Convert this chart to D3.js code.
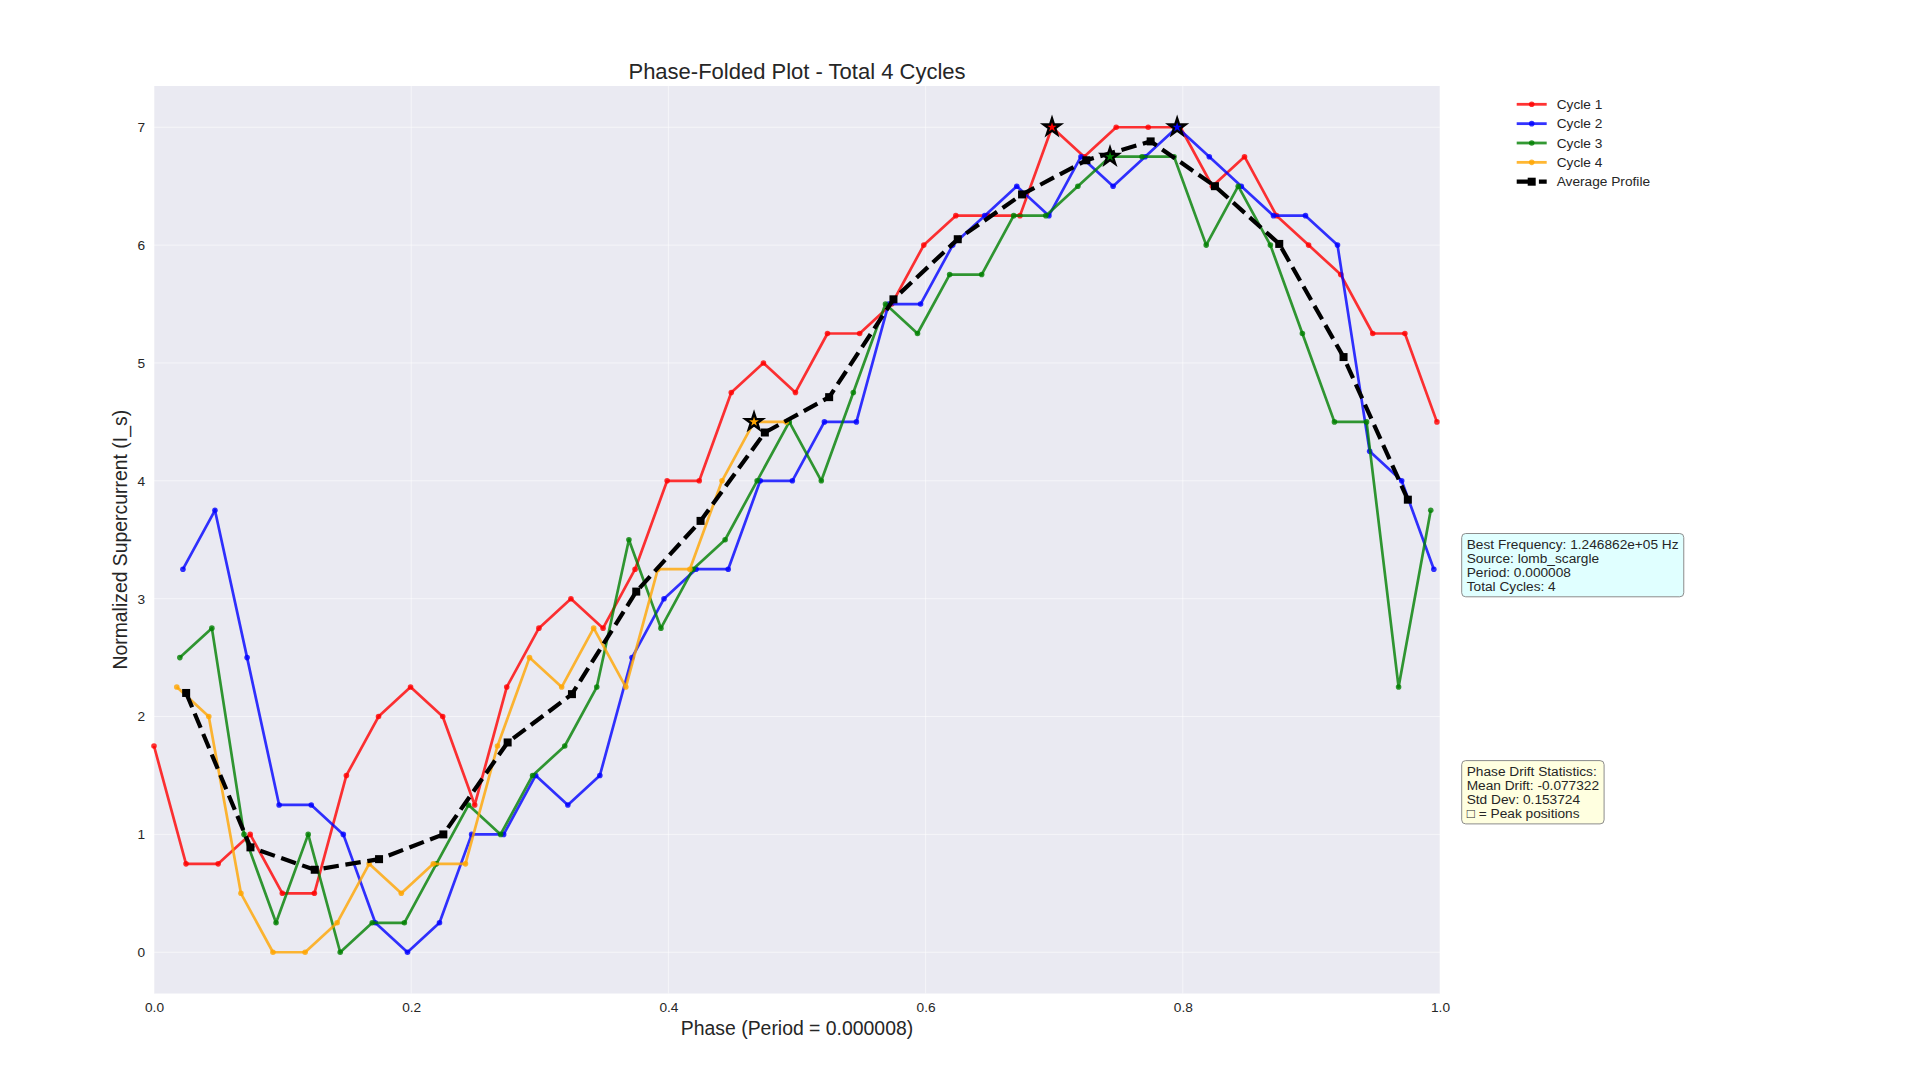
<!DOCTYPE html>
<html>
<head>
<meta charset="utf-8">
<script src="https://cdn.jsdelivr.net/npm/d3@7"></script>
<style>
  body { margin: 0; background: #ffffff; }
  text { font-family: "Liberation Sans", Arial, sans-serif; fill: #262626; }
</style>
</head>
<body>
<div id="div_chart"></div>
<script>

// series names / colours
var cycleNames = ["Cycle 1", "Cycle 2", "Cycle 3", "Cycle 4"];
var cycleColors = ["red", "blue", "green", "orange"];

// phase of every sample and normalized supercurrent
var cycle1Phase = [0.0000, 0.0249, 0.0499, 0.0748, 0.0998, 0.1247, 0.1496, 0.1746, 0.1995, 0.2245,
                   0.2494, 0.2743, 0.2993, 0.3242, 0.3492, 0.3741, 0.3990, 0.4240, 0.4489, 0.4739,
                   0.4988, 0.5237, 0.5487, 0.5736, 0.5986, 0.6235, 0.6484, 0.6734, 0.6983, 0.7233,
                   0.7482, 0.7731, 0.7981, 0.8230, 0.8480, 0.8729, 0.8978, 0.9228, 0.9477, 0.9727,
                   0.9976];
var cycle1Value = [1.75, 0.75, 0.75, 1.0, 0.5, 0.5, 1.5, 2.0, 2.25, 2.0,
                   1.25, 2.25, 2.75, 3.0, 2.75, 3.25, 4.0, 4.0, 4.75, 5.0,
                   4.75, 5.25, 5.25, 5.5, 6.0, 6.25, 6.25, 6.25, 7.0, 6.75,
                   7.0, 7.0, 7.0, 6.5, 6.75, 6.25, 6.0, 5.75, 5.25, 5.25,
                   4.5];

var cycle2Phase = [0.0225, 0.0474, 0.0724, 0.0973, 0.1223, 0.1472, 0.1721, 0.1971, 0.2220, 0.2470,
                   0.2719, 0.2968, 0.3218, 0.3467, 0.3717, 0.3966, 0.4215, 0.4465, 0.4714, 0.4964,
                   0.5213, 0.5462, 0.5712, 0.5961, 0.6211, 0.6460, 0.6709, 0.6959, 0.7208, 0.7458,
                   0.7707, 0.7956, 0.8206, 0.8455, 0.8705, 0.8954, 0.9203, 0.9453, 0.9702, 0.9952];
var cycle2Value = [3.25, 3.75, 2.5, 1.25, 1.25, 1.0, 0.25, 0.0, 0.25, 1.0,
                   1.0, 1.5, 1.25, 1.5, 2.5, 3.0, 3.25, 3.25, 4.0, 4.0,
                   4.5, 4.5, 5.5, 5.5, 6.0, 6.25, 6.5, 6.25, 6.75, 6.5,
                   6.75, 7.0, 6.75, 6.5, 6.25, 6.25, 6.0, 4.25, 4.0, 3.25];

var cycle3Phase = [0.0201, 0.0450, 0.0700, 0.0949, 0.1199, 0.1448, 0.1697, 0.1947, 0.2196, 0.2446,
                   0.2695, 0.2944, 0.3194, 0.3443, 0.3693, 0.3942, 0.4191, 0.4441, 0.4690, 0.4940,
                   0.5189, 0.5438, 0.5688, 0.5937, 0.6187, 0.6436, 0.6685, 0.6935, 0.7184, 0.7434,
                   0.7683, 0.7932, 0.8182, 0.8431, 0.8681, 0.8930, 0.9179, 0.9429, 0.9678, 0.9928];
var cycle3Value = [2.5, 2.75, 1.0, 0.25, 1.0, 0.0, 0.25, 0.25, 0.75, 1.25,
                   1.0, 1.5, 1.75, 2.25, 3.5, 2.75, 3.25, 3.5, 4.0, 4.5,
                   4.0, 4.75, 5.5, 5.25, 5.75, 5.75, 6.25, 6.25, 6.5, 6.75,
                   6.75, 6.75, 6.0, 6.5, 6.0, 5.25, 4.5, 4.5, 2.25, 3.75];

var cycle4Phase = [0.0177, 0.0426, 0.0676, 0.0925, 0.1175, 0.1424, 0.1673, 0.1923, 0.2172, 0.2422,
                   0.2671, 0.2920, 0.3170, 0.3419, 0.3669, 0.3918, 0.4167, 0.4417, 0.4666, 0.4916];
var cycle4Value = [2.25, 2.0, 0.5, 0.0, 0.0, 0.25, 0.75, 0.5, 0.75, 0.75,
                   1.75, 2.5, 2.25, 2.75, 2.25, 3.25, 3.25, 4.0, 4.5, 4.5];

// binned average profile
var avgPhase = [0.025, 0.075, 0.125, 0.175, 0.225, 0.275, 0.325, 0.375, 0.425, 0.475,
                0.525, 0.575, 0.625, 0.675, 0.725, 0.775, 0.825, 0.875, 0.925, 0.975];
var avgValue = [2.20, 0.89, 0.70, 0.79, 1.00, 1.78, 2.19, 3.06, 3.66, 4.41,
                4.71, 5.54, 6.05, 6.43, 6.72, 6.88, 6.50, 6.01, 5.05, 3.84];

// index of the peak sample in each cycle (star markers)
var peakIndex = [28, 31, 29, 18];

var xTicks = [0.0, 0.2, 0.4, 0.6, 0.8, 1.0];
var yTicks = [0, 1, 2, 3, 4, 5, 6, 7];

var infoLines = ["Best Frequency: 1.246862e+05 Hz", "Source: lomb_scargle", "Period: 0.000008", "Total Cycles: 4"];
var driftLines = ["Phase Drift Statistics:", "Mean Drift: -0.077322", "Std Dev: 0.153724", "\u25A1 = Peak positions"];

var cycles = [
  cycle1Phase.map(function(p, i) { return {phase: p, value: cycle1Value[i]}; }),
  cycle2Phase.map(function(p, i) { return {phase: p, value: cycle2Value[i]}; }),
  cycle3Phase.map(function(p, i) { return {phase: p, value: cycle3Value[i]}; }),
  cycle4Phase.map(function(p, i) { return {phase: p, value: cycle4Value[i]}; })
];
var avg = avgPhase.map(function(p, i) { return {phase: p, value: avgValue[i]}; });

// plot box (pixels)
var box = {left: 154, right: 1440, top: 86, bottom: 993.5};

var svg = d3.select("#div_chart")
  .append("svg")
  .attr("width", 1920)
  .attr("height", 1080);

var x = d3.scaleLinear().domain([0, 1]).range([box.left, box.right]);
var y = d3.scaleLinear().domain([-0.35, 7.35]).range([box.bottom, box.top]);

svg.append("rect")
  .attr("x", box.left).attr("y", box.top)
  .attr("width", box.right - box.left).attr("height", box.bottom - box.top)
  .attr("fill", "#eaeaf2");

// grid
svg.append("g").selectAll("line")
  .data(xTicks)
  .enter().append("line")
  .attr("x1", function(d) { return x(d); }).attr("x2", function(d) { return x(d); })
  .attr("y1", box.top).attr("y2", box.bottom)
  .attr("stroke", "#ffffff").attr("stroke-opacity", 0.55).attr("stroke-width", 1);
svg.append("g").selectAll("line")
  .data(yTicks)
  .enter().append("line")
  .attr("x1", box.left).attr("x2", box.right)
  .attr("y1", function(d) { return y(d); }).attr("y2", function(d) { return y(d); })
  .attr("stroke", "#ffffff").attr("stroke-opacity", 0.55).attr("stroke-width", 1);

// axes
var xAxis = svg.append("g")
  .attr("transform", "translate(0," + box.bottom + ")")
  .call(d3.axisBottom(x).tickValues(xTicks).tickFormat(d3.format(".1f")).tickSize(0).tickPadding(9));
var yAxis = svg.append("g")
  .attr("transform", "translate(" + box.left + ",0)")
  .call(d3.axisLeft(y).tickValues(yTicks).tickFormat(d3.format("d")).tickSize(0).tickPadding(9));
[xAxis, yAxis].forEach(function(a) {
  a.select(".domain").remove();
  a.selectAll("text")
    .attr("fill", "#262626")
    .style("font-family", "'Liberation Sans', Arial, sans-serif")
    .style("font-size", "13.7px");
});

// cycle lines
var line = d3.line()
  .x(function(d) { return x(d.phase); })
  .y(function(d) { return y(d.value); });

cycles.forEach(function(data, n) {
  var g = svg.append("g");
  g.append("path")
    .datum(data)
    .attr("d", line)
    .attr("fill", "none")
    .attr("stroke", cycleColors[n])
    .attr("stroke-opacity", 0.8)
    .attr("stroke-width", 2.7)
    .attr("stroke-linejoin", "round");
  g.selectAll("circle")
    .data(data)
    .enter().append("circle")
    .attr("cx", function(d) { return x(d.phase); })
    .attr("cy", function(d) { return y(d.value); })
    .attr("r", 2.8)
    .attr("fill", cycleColors[n])
    .attr("fill-opacity", 0.8);
});

// average profile
svg.append("path")
  .datum(avg)
  .attr("d", line)
  .attr("fill", "none")
  .attr("stroke", "#000000")
  .attr("stroke-width", 4.2)
  .attr("stroke-dasharray", "15.5,6.7");
svg.append("g").selectAll("rect")
  .data(avg)
  .enter().append("rect")
  .attr("x", function(d) { return x(d.phase) - 4; })
  .attr("y", function(d) { return y(d.value) - 4; })
  .attr("width", 8).attr("height", 8)
  .attr("fill", "#000000");

// peak stars
var star = d3.symbol().type(d3.symbolStar).size(88);
svg.append("g").selectAll("path")
  .data(peakIndex)
  .enter().append("path")
  .attr("d", star)
  .attr("transform", function(k, n) {
    var p = cycles[n][k];
    return "translate(" + x(p.phase) + "," + y(p.value) + ")";
  })
  .attr("fill", function(k, n) { return cycleColors[n]; })
  .attr("stroke", "#000000")
  .attr("stroke-width", 2.4)
  .attr("stroke-linejoin", "miter");

// title and labels
svg.append("text")
  .attr("x", (box.left + box.right) / 2).attr("y", 78.5)
  .attr("text-anchor", "middle")
  .style("font-size", "22px")
  .text("Phase-Folded Plot - Total 4 Cycles");
svg.append("text")
  .attr("x", (box.left + box.right) / 2).attr("y", 1035)
  .attr("text-anchor", "middle")
  .style("font-size", "19.4px")
  .text("Phase (Period = 0.000008)");
svg.append("text")
  .attr("transform", "translate(127," + (box.top + box.bottom) / 2 + ") rotate(-90)")
  .attr("text-anchor", "middle")
  .style("font-size", "19.4px")
  .text("Normalized Supercurrent (I_s)");

// legend
var legend = svg.append("g").attr("transform", "translate(1516.7,104.3)");
var legendItems = cycleNames.concat(["Average Profile"]);
legendItems.forEach(function(name, i) {
  var row = legend.append("g").attr("transform", "translate(0," + i * 19.35 + ")");
  if (i < 4) {
    row.append("line")
      .attr("x1", 0).attr("x2", 30).attr("y1", 0).attr("y2", 0)
      .attr("stroke", cycleColors[i]).attr("stroke-opacity", 0.8).attr("stroke-width", 2.8);
    row.append("circle")
      .attr("cx", 15).attr("cy", 0).attr("r", 2.8)
      .attr("fill", cycleColors[i]).attr("fill-opacity", 0.8);
  } else {
    row.append("line")
      .attr("x1", 0).attr("x2", 30).attr("y1", 0).attr("y2", 0)
      .attr("stroke", "#000000").attr("stroke-width", 4.2)
      .attr("stroke-dasharray", "15.5,6.7");
    row.append("rect")
      .attr("x", 11).attr("y", -4).attr("width", 8).attr("height", 8)
      .attr("fill", "#000000");
  }
  row.append("text")
    .attr("x", 40).attr("y", 0).attr("dy", "0.35em")
    .style("font-size", "13.7px")
    .text(name);
});

// annotation boxes
function textBox(lines, bx, firstBase, fill) {
  var g = svg.append("g");
  var bg = g.append("rect");
  var t = g.append("text").style("font-size", "13.7px");
  lines.forEach(function(s, i) {
    t.append("tspan").attr("x", bx + 5).attr("y", firstBase + i * 14.1).text(s);
  });
  var b = t.node().getBBox();
  bg.attr("x", bx).attr("y", b.y - 3)
    .attr("width", b.width + 10).attr("height", b.height + 6)
    .attr("rx", 4).attr("ry", 4)
    .attr("fill", fill)
    .attr("stroke", "#8c8c8c").attr("stroke-width", 1);
}
textBox(infoLines, 1461.7, 548.5, "#e0ffff");
textBox(driftLines, 1461.7, 775.6, "#ffffe0");

</script>
</body>
</html>
